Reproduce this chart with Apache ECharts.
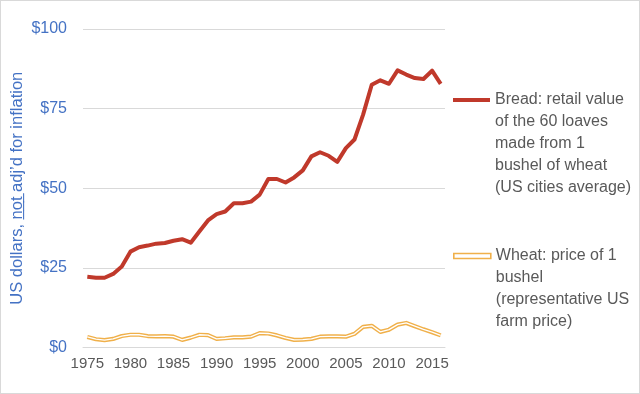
<!DOCTYPE html>
<html>
<head>
<meta charset="utf-8">
<script src="https://cdn.jsdelivr.net/npm/echarts@6/dist/echarts.min.js"></script>
<style>
html,body{margin:0;padding:0;background:#fff;}
#wrap{position:relative;width:640px;height:394px;}
#c{width:640px;height:394px;}
#wrap:after{content:"";position:absolute;left:0;top:0;right:0;bottom:0;border:1px solid #d9d9d9;pointer-events:none;}
</style>
</head>
<body>
<div id="wrap"><div id="c"></div></div>
<script>
const years = [];
for (let y = 1975; y <= 2016; y++) years.push(String(y));

const breadValues = [22.2, 21.9, 21.9, 23.1, 25.4, 30.1, 31.5, 32.0, 32.6, 32.8,
  33.5, 34.0, 32.9, 36.4, 39.9, 41.9, 42.7, 45.3, 45.3, 45.8,
  48.0, 52.9, 52.9, 51.8, 53.4, 55.6, 60.0, 61.3, 60.2, 58.3,
  62.6, 65.3, 73.1, 82.5, 83.9, 82.8, 87.0, 85.7, 84.6, 84.3,
  86.9, 82.8];

const wheatValues = [3.3, 2.6, 2.3, 2.7, 3.6, 4.0, 4.0, 3.6, 3.5, 3.6,
  3.4, 2.4, 3.1, 4.0, 3.9, 2.7, 2.9, 3.2, 3.2, 3.4,
  4.5, 4.4, 3.8, 3.0, 2.4, 2.5, 2.7, 3.4, 3.5, 3.5,
  3.4, 4.3, 6.5, 6.8, 4.9, 5.6, 7.2, 7.7, 6.7, 5.7,
  4.8, 3.8];

const yTicks = [0, 25, 50, 75, 100];

const breadLabel = 'Bread: retail value\nof the 60 loaves\nmade from 1\nbushel of wheat\n(US cities average)';
const wheatLabel = 'Wheat: price of 1\nbushel\n(representative US\nfarm price)';

const FONT = '"Liberation Sans", Arial, sans-serif';
const RED = '#C0392B';
const ORANGE = '#F0B04A';
const BLUE = '#4472C4';
const GRAY = '#595959';

const chart = echarts.init(document.getElementById('c'));
chart.setOption({
  animation: false,
  textStyle: { fontFamily: FONT },
  grid: { left: 83, right: 195, top: 29, bottom: 46.5, containLabel: false, outerBoundsMode: 'none' },
  legend: [
    {
      left: 453, top: 1, padding: 0, orient: 'vertical', selectedMode: false,
      itemWidth: 37, itemHeight: 4,
      data: [{ name: breadLabel, icon: 'rect', itemStyle: { color: RED } }],
      formatter: n => '\n\n\n\n' + n,
      textStyle: { fontSize: 16, color: GRAY, lineHeight: 22, fontFamily: FONT }
    },
    {
      left: 453, top: 179, padding: 0, orient: 'vertical', selectedMode: false,
      itemWidth: 37, itemHeight: 5,
      data: [{
        name: wheatLabel, icon: 'rect',
        itemStyle: { color: '#fff', borderColor: ORANGE, borderWidth: 1.6 }
      }],
      formatter: n => '\n\n\n' + n,
      textStyle: { fontSize: 16, color: GRAY, lineHeight: 22, fontFamily: FONT }
    }
  ],
  xAxis: {
    type: 'category',
    data: years,
    boundaryGap: true,
    axisTick: { show: false },
    axisLine: { show: true, lineStyle: { color: '#D9D9D9', width: 1 } },
    axisLabel: { interval: 4, color: GRAY, fontSize: 15, margin: 9, fontFamily: FONT }
  },
  yAxis: {
    type: 'value',
    min: yTicks[0], max: yTicks[yTicks.length - 1], interval: 25,
    axisLine: { show: false },
    axisTick: { show: false },
    splitLine: { lineStyle: { color: '#D9D9D9', width: 1 } },
    axisLabel: { formatter: v => '$' + v, color: BLUE, fontSize: 16, margin: 16, fontFamily: FONT },
    name: 'US dollars, n\u0332o\u0332t\u0332 adj\u2019d for inflation',
    nameLocation: 'middle',
    nameGap: 57,
    nameMoveOverlap: false,
    nameTextStyle: { color: BLUE, fontSize: 16.5, fontFamily: FONT }
  },
  series: [
    {
      name: breadLabel, type: 'line', data: breadValues,
      showSymbol: false, symbol: 'none',
      lineStyle: { color: RED, width: 4, join: 'round' },
      itemStyle: { color: RED }, z: 3
    },
    {
      name: wheatLabel, type: 'line', data: wheatValues,
      showSymbol: false, symbol: 'none',
      lineStyle: { color: ORANGE, width: 4.2, join: 'round' },
      itemStyle: { color: ORANGE }, z: 2
    },
    {
      name: 'wheat-inner', type: 'line', data: wheatValues,
      showSymbol: false, symbol: 'none',
      lineStyle: { color: '#FFFFFF', width: 1.3, join: 'round' },
      itemStyle: { color: '#fff' }, z: 2.5
    }
  ]
});
</script>
</body>
</html>
